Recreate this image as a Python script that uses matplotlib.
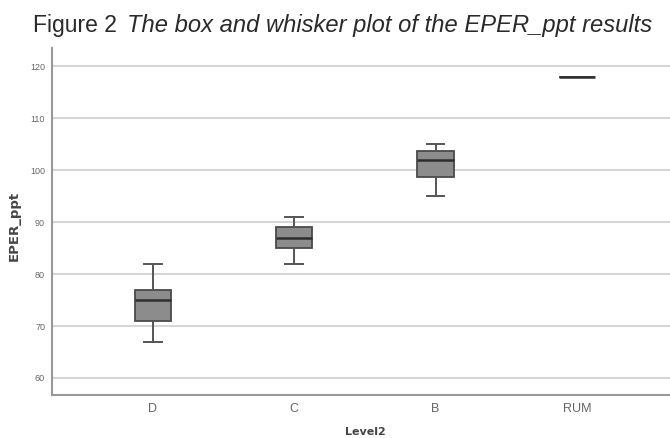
import matplotlib
matplotlib.use("Agg")
import matplotlib.pyplot as plt

categories = ["D", "C", "B", "RUM"]
whisker_low = [67, 82, 95, 118]
q1 = [71, 85, 98.7, 118]
median = [75, 87, 102, 118]
q3 = [77, 89, 103.7, 118]
whisker_high = [82, 91, 105, 118]
yticks = [60, 70, 80, 90, 100, 110, 120]

plt.rcParams['font.family'] = ['Liberation Sans', 'DejaVu Sans']

W, H = 670, 438
fig = plt.figure(figsize=(6.7, 4.38), dpi=100)
ax = fig.add_axes([0.0776, 0.098, 0.9224, 0.792])

stats = []
for i, c in enumerate(categories):
    stats.append(dict(label=c, whislo=whisker_low[i], q1=q1[i], med=median[i],
                      q3=q3[i], whishi=whisker_high[i], fliers=[]))

ax.set_axisbelow(True)
for y in yticks:
    ax.axhline(y, color='#d2d2d2', lw=1.3, zorder=0)

ax.bxp(stats, positions=range(len(categories)), widths=0.255,
       capwidths=0.127, patch_artist=True, showfliers=False,
       boxprops=dict(facecolor='#8c8c8c', edgecolor='#4a4a4a', linewidth=1.3),
       medianprops=dict(color='#2e2e2e', linewidth=1.8),
       whiskerprops=dict(color='#555555', linewidth=1.4),
       capprops=dict(color='#555555', linewidth=1.4))

ax.set_xlim(-0.715, 3.66)
ax.set_ylim(56.7, 123.5)
ax.set_yticks(yticks)
ax.set_xticks(range(len(categories)))
ax.set_xticklabels(categories)
ax.tick_params(axis='both', length=0, colors='#666666')
ax.tick_params(axis='y', labelsize=6.5, pad=5)
ax.tick_params(axis='x', labelsize=9, pad=6)
for s in ['top', 'right']:
    ax.spines[s].set_visible(False)
for s in ['left', 'bottom']:
    ax.spines[s].set_color('#999999')
    ax.spines[s].set_linewidth(1.5)

fig.text(14 / W, 1 - 226 / H, "EPER_ppt", rotation=90, ha='center', va='center',
         fontsize=9.5, fontweight='bold', color='#444444', family='DejaVu Sans')
fig.text(365 / W, 1 - 432 / H, "Level2", ha='center', va='center',
         fontsize=8, fontweight='bold', color='#444444', family='DejaVu Sans')

t1 = fig.text(33 / W, 1 - 32 / H, "Figure 2", ha='left', va='baseline',
              fontsize=16.5, color='#2a2a2a')
fig.canvas.draw()
bb = t1.get_window_extent()
fig.text((bb.x1 + 10) / W, 1 - 32 / H, "The box and whisker plot of the EPER_ppt results",
         ha='left', va='baseline', fontsize=17.1, style='italic', color='#2a2a2a')

fig.savefig("out.png", dpi=100)
